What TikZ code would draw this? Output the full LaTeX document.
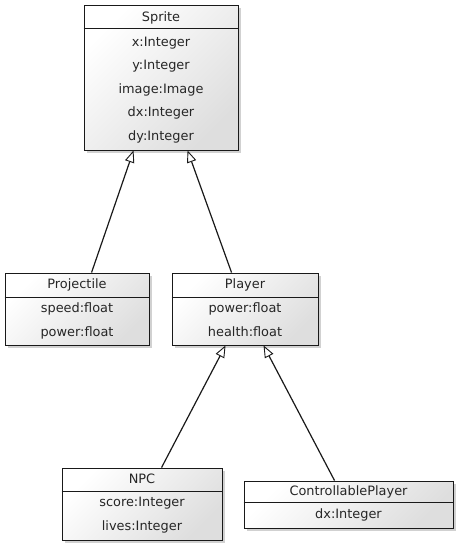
\documentclass[tikz,border=0pt]{standalone}
\usepackage{fontspec}
\setmainfont{DejaVu Sans}
\usetikzlibrary{shadows,calc,arrows.meta}
\begin{document}
\begin{tikzpicture}[x=1pt,y=-1pt,
  classbox/.style={draw=black!90, line width=0.9pt, rectangle, inner sep=0pt,
    top color=white, bottom color=black!13, shading angle=45,
    drop shadow={shadow xshift=2.5pt, shadow yshift=-2.5pt, opacity=0.3, fill=black!60}},
  txt/.style={anchor=base, inner sep=0pt, font=\fontsize{12.9}{14}\selectfont, text=black!85},
  sep/.style={draw=black!90, line width=0.9pt},
  inh/.style={draw=black!90, line width=1.2pt,
    -{Triangle[open, length=12pt, width=9.5pt, fill=white, line width=0.9pt]}}]
\useasboundingbox (0,0) rectangle (456,547);
% Sprite
\node[classbox, minimum width=154pt, minimum height=145pt] (sprite) at (161,77.5) {};
\draw[sep] ($(sprite.north west)+(0,24)$) -- ($(sprite.north east)+(0,24)$);
\node[txt] (spriteT) at (161,21.5) {Sprite};
\node[txt] (spriteA) at (161,46) {x:Integer};
\node[txt] (spriteB) at (161,69.5) {y:Integer};
\node[txt] (spriteC) at (161,93) {image:Image};
\node[txt] (spriteD) at (161,116.5) {dx:Integer};
\node[txt] (spriteE) at (161,140) {dy:Integer};
% Projectile
\node[classbox, minimum width=144pt, minimum height=72pt] (proj) at (77,309) {};
\draw[sep] ($(proj.north west)+(0,25)$) -- ($(proj.north east)+(0,25)$);
\node[txt] (projT) at (77,288.5) {Projectile};
\node[txt] (projA) at (77,312) {speed:float};
\node[txt] (projB) at (77,336) {power:float};
% Player
\node[classbox, minimum width=146pt, minimum height=72pt] (player) at (245,309) {};
\draw[sep] ($(player.north west)+(0,25)$) -- ($(player.north east)+(0,25)$);
\node[txt] (playerT) at (245,288.5) {Player};
\node[txt] (playerA) at (245,312) {power:float};
\node[txt] (playerB) at (245,336) {health:float};
% NPC
\node[classbox, minimum width=160pt, minimum height=72pt] (npc) at (142,504) {};
\draw[sep] ($(npc.north west)+(0,24)$) -- ($(npc.north east)+(0,24)$);
\node[txt] (npcT) at (142,483.5) {NPC};
\node[txt] (npcA) at (142,506.5) {score:Integer};
\node[txt] (npcB) at (142,530) {lives:Integer};
% ControllablePlayer
\node[classbox, minimum width=209pt, minimum height=47pt] (cp) at (348.5,504.5) {};
\draw[sep] ($(cp.north west)+(0,22)$) -- ($(cp.north east)+(0,22)$);
\node[txt] (cpT) at (348.5,495.5) {ControllablePlayer};
\node[txt] (cpA) at (348.5,518) {dx:Integer};
% inheritance
\draw[inh] ($(proj.north west)+(87,0)$) -- ($(sprite.south west)+(50,0)$);
\draw[inh] ($(player.north west)+(60,0)$) -- ($(sprite.south west)+(104,0)$);
\draw[inh] ($(npc.north west)+(100,0)$) -- ($(player.south west)+(54,0)$);
\draw[inh] ($(cp.north west)+(91,0)$) -- ($(player.south west)+(92,0)$);
\end{tikzpicture}
\end{document}
